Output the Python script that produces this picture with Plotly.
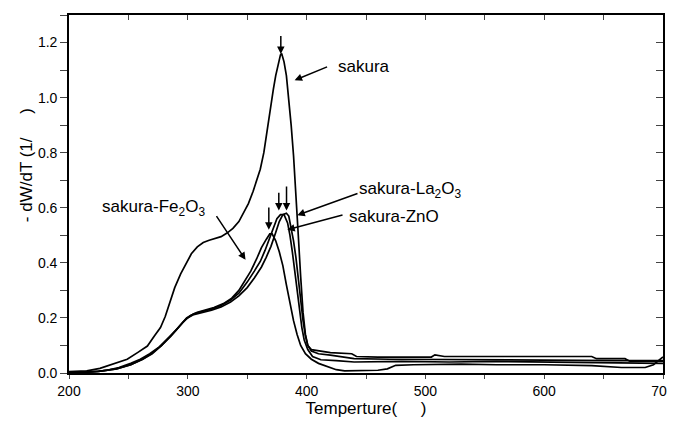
import plotly.graph_objects as go

# ---------------- data ----------------
sakura_T = [200, 215, 226, 238, 249, 258, 266, 272, 277, 281, 285, 289, 294, 298, 303, 308, 313, 318, 323, 328,
            333, 338, 343, 347, 351, 355, 358, 361, 364, 366, 368, 370, 372, 374, 376, 378, 379, 381, 383, 385,
            387, 389, 391, 393, 395, 397, 399, 401, 404, 410, 420, 438, 442, 460, 505, 508, 512, 516, 560, 600,
            640, 644, 668, 672, 700]
sakura_v = [0.005, 0.008, 0.017, 0.035, 0.05, 0.075, 0.098, 0.135, 0.165, 0.205, 0.26, 0.31, 0.36, 0.395, 0.433,
            0.458, 0.474, 0.482, 0.488, 0.495, 0.508, 0.525, 0.55, 0.58, 0.615, 0.66, 0.70, 0.74, 0.80, 0.86,
            0.92, 0.98, 1.03, 1.08, 1.12, 1.155, 1.16, 1.13, 1.08, 1.00, 0.90, 0.79, 0.66, 0.50, 0.35, 0.22,
            0.14, 0.10, 0.085, 0.08, 0.074, 0.07, 0.06, 0.058, 0.058, 0.066, 0.062, 0.06, 0.06, 0.06,
            0.06, 0.052, 0.052, 0.043, 0.043]

fe_T = [200, 220, 232, 242, 252, 260, 268, 276, 283, 290, 296, 302, 308, 315, 322, 330, 337, 343, 348, 353,
        358, 362, 366, 369, 371, 374, 377, 380, 383, 386, 389, 392, 395, 399, 404, 410, 418, 425, 432, 445,
        460, 468, 475, 490, 530, 560, 600, 640, 665, 685, 692, 700]
fe_v = [0.0, 0.004, 0.01, 0.02, 0.035, 0.05, 0.07, 0.095, 0.125, 0.155, 0.185, 0.208, 0.22, 0.228, 0.238,
        0.252, 0.272, 0.30, 0.335, 0.37, 0.415, 0.455, 0.485, 0.505, 0.505, 0.48, 0.44, 0.39, 0.32, 0.25,
        0.19, 0.14, 0.10, 0.07, 0.05, 0.035, 0.022, 0.012, 0.008, 0.008, 0.01, 0.015, 0.028, 0.03, 0.032,
        0.03, 0.03, 0.027, 0.02, 0.02, 0.03, 0.058]

zno_T = [200, 225, 240, 252, 262, 270, 278, 286, 293, 299, 305, 312, 320, 328, 336, 343, 350, 356, 361, 365,
         369, 372, 375, 378, 381, 384, 386, 388, 390, 392, 394, 396, 398, 401, 405, 412, 425, 440, 480, 520,
         560, 600, 640, 680, 700]
zno_v = [0.002, 0.006, 0.015, 0.03, 0.05, 0.07, 0.1, 0.135, 0.17, 0.2, 0.215, 0.222, 0.232, 0.245, 0.265,
         0.29, 0.33, 0.37, 0.405, 0.445, 0.49, 0.53, 0.56, 0.575, 0.575, 0.545, 0.50, 0.44, 0.37, 0.30, 0.23,
         0.165, 0.12, 0.085, 0.06, 0.048, 0.045, 0.04, 0.042, 0.04, 0.042, 0.04, 0.036, 0.035, 0.035]

la_T = [200, 225, 240, 252, 262, 270, 278, 286, 293, 299, 305, 312, 320, 328, 336, 343, 350, 356, 362, 366,
        370, 374, 377, 380, 383, 385, 387, 389, 391, 393, 395, 397, 399, 401, 404, 410, 420, 440, 470, 520,
        580, 620, 660, 700]
la_v = [0.002, 0.006, 0.015, 0.03, 0.05, 0.072, 0.1, 0.138, 0.172, 0.198, 0.212, 0.22, 0.228, 0.24, 0.258,
        0.28, 0.31, 0.345, 0.385, 0.42, 0.46, 0.51, 0.55, 0.575, 0.58, 0.57, 0.53, 0.48, 0.42, 0.34, 0.26,
        0.19, 0.135, 0.10, 0.08, 0.07, 0.065, 0.052, 0.05, 0.048, 0.048, 0.046, 0.045, 0.045]

x_ticks = [200, 300, 400, 500, 600, 700]
y_ticks = [0.0, 0.2, 0.4, 0.6, 0.8, 1.0, 1.2]

FONT = "Arial, Liberation Sans, sans-serif"

fig = go.Figure()
for T, v in [(sakura_T, sakura_v), (fe_T, fe_v), (zno_T, zno_v), (la_T, la_v)]:
    fig.add_trace(go.Scatter(x=T, y=v, mode="lines", line=dict(color="black", width=1.7),
                             showlegend=False, hoverinfo="skip"))
# invisible trace to activate top/right mirror axes
fig.add_trace(go.Scatter(x=[], y=[], xaxis="x2", yaxis="y2", showlegend=False))

# page body has an 8px default margin, so the figure is sized to fill the rest of the window
fig.update_layout(
    width=667, height=415,
    margin=dict(l=61, r=12, t=7, b=50),
    plot_bgcolor="white", paper_bgcolor="white",
    font=dict(family=FONT, color="black"),
    xaxis=dict(range=[200, 700], tickvals=x_ticks, ticks="outside", ticklen=4, tickwidth=1.3, automargin=False,
               showline=True, linewidth=1.6, linecolor="black", showgrid=False, zeroline=False,
               tickfont=dict(size=14), minor=dict(dtick=50, ticks="outside", ticklen=4, tickwidth=1.3),
               title=dict(text="Temperture(\u00a0\u00a0\u00a0\u00a0\u00a0)", font=dict(size=17), standoff=4)),
    yaxis=dict(range=[0, 1.3], tickvals=y_ticks, tickformat=".1f", ticks="outside", ticklen=7, tickwidth=1.3,
               automargin=False,
               showline=True, linewidth=1.6, linecolor="black", showgrid=False, zeroline=False,
               tickfont=dict(size=14), minor=dict(dtick=0.1, ticks="outside", ticklen=7, tickwidth=1.3)),
    xaxis2=dict(overlaying="x", side="top", range=[200, 700], dtick=50, tick0=200, ticks="inside", ticklen=5,
                tickwidth=1.3, showticklabels=False, showline=True, linewidth=1.6, linecolor="black",
                showgrid=False, zeroline=False, automargin=False),
    yaxis2=dict(overlaying="y", side="right", range=[0, 1.3], dtick=0.1, tick0=0, ticks="inside", ticklen=7,
                tickwidth=1.3, showticklabels=False, showline=True, linewidth=1.6, linecolor="black",
                showgrid=False, zeroline=False, automargin=False),
)

# y axis title as rotated annotation
fig.add_annotation(text="- dW/dT (1/\u00a0\u00a0\u00a0\u00a0\u00a0)", xref="paper", yref="paper", x=-0.071, y=0.58,
                   textangle=-90, showarrow=False, font=dict(size=17), xanchor="center", yanchor="middle")

LBL = dict(size=17)
# labels
fig.add_annotation(text="sakura", x=424.5, y=1.114, xanchor="left", yanchor="middle", showarrow=False, font=LBL)
fig.add_annotation(text="sakura-Fe<sub>2</sub>O<sub>3</sub>", x=226.3, y=0.60, xanchor="left", yanchor="middle",
                   showarrow=False, font=LBL)
fig.add_annotation(text="sakura-La<sub>2</sub>O<sub>3</sub>", x=442.3, y=0.665, xanchor="left", yanchor="middle",
                   showarrow=False, font=LBL)
fig.add_annotation(text="sakura-ZnO", x=434.3, y=0.569, xanchor="left", yanchor="middle", showarrow=False, font=LBL)

ARW = dict(showarrow=True, arrowhead=2, arrowsize=1, arrowwidth=1.5, arrowcolor="black", axref="x", ayref="y", text="")
# label arrows
fig.add_annotation(x=389.9, y=1.063, ax=418.5, ay=1.114, **ARW)
fig.add_annotation(x=348.6, y=0.411, ax=323.3, ay=0.575, **ARW)
fig.add_annotation(x=392.2, y=0.573, ax=444.1, ay=0.654, **ARW)
fig.add_annotation(x=383.7, y=0.52, ax=431.5, ay=0.575, **ARW)
# peak arrows
fig.add_annotation(x=378.3, y=1.158, ax=378.3, ay=1.229, **ARW)
fig.add_annotation(x=368.2, y=0.52, ax=368.2, ay=0.606, **ARW)
fig.add_annotation(x=376.6, y=0.59, ax=376.6, ay=0.66, **ARW)
fig.add_annotation(x=383.1, y=0.59, ax=383.1, ay=0.683, **ARW)

fig.write_html("out.html")
